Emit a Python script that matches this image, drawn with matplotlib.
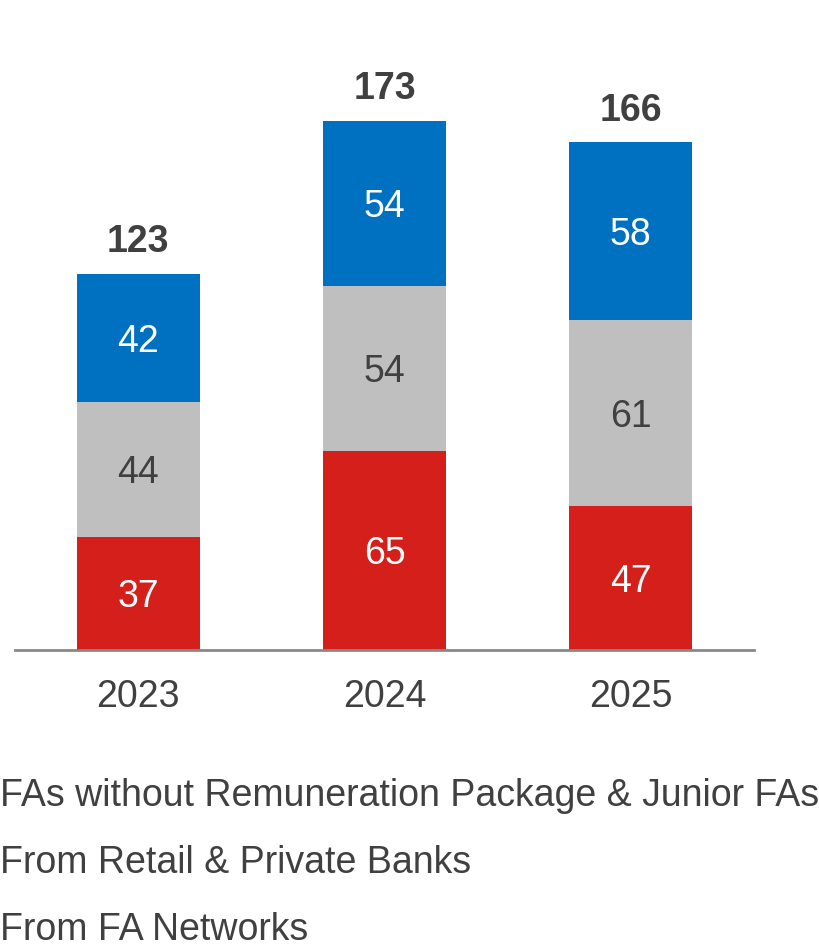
import matplotlib
matplotlib.use("Agg")
import matplotlib.pyplot as plt
import numpy as np

years = ["2023", "2024", "2025"]
fa_networks = [37, 65, 47]
retail_private = [44, 54, 61]
without_package = [42, 54, 58]
totals = [123, 173, 166]
series_names = ["FAs without Remuneration Package & Junior FAs",
                "From Retail & Private Banks",
                "From FA Networks"]

plt.rcParams['font.family'] = ['Liberation Sans', 'DejaVu Sans']
TXT = "#404040"
RED = "#D41F1B"
GRAY = "#BFBFBF"
BLUE = "#0070C0"

fig = plt.figure(figsize=(8.19, 9.52), dpi=100)
ax = fig.add_axes([15/819, 302/952, 739/819, 611.6/952])

x = np.arange(len(years))
w = 0.5
b1 = ax.bar(x, fa_networks, w, color=RED)
bot2 = np.array(fa_networks)
b2 = ax.bar(x, retail_private, w, bottom=bot2, color=GRAY)
bot3 = bot2 + np.array(retail_private)
b3 = ax.bar(x, without_package, w, bottom=bot3, color=BLUE)

fs = 27
for bars, vals, bots, col in [(b1, fa_networks, np.zeros(3), "white"),
                              (b2, retail_private, bot2, TXT),
                              (b3, without_package, bot3, "white")]:
    for xi, v, b in zip(x, vals, bots):
        ax.text(xi, b + v / 2 - 1.2, str(v), ha="center", va="center",
                color=col, fontsize=fs)

for xi, t in zip(x, totals):
    ax.text(xi, t + 4.5, str(t), ha="center", va="bottom", color=TXT,
            fontsize=fs, fontweight="bold")

ax.set_xlim(-0.5, 2.5)
ax.set_ylim(0, 200)
for s in ["top", "right", "left"]:
    ax.spines[s].set_visible(False)
ax.spines["bottom"].set_color("#898989")
ax.spines["bottom"].set_linewidth(2)
ax.set_yticks([])
ax.set_xticks(x)
ax.set_xticklabels(years, fontsize=fs, color=TXT)
ax.tick_params(axis="x", length=0, pad=21)

for i, name in enumerate(series_names):
    fig.text(0.0, 1 - (806 + 67 * i) / 952, name, ha="left", va="baseline",
             fontsize=fs, color=TXT)

fig.savefig("out.png", dpi=100)
